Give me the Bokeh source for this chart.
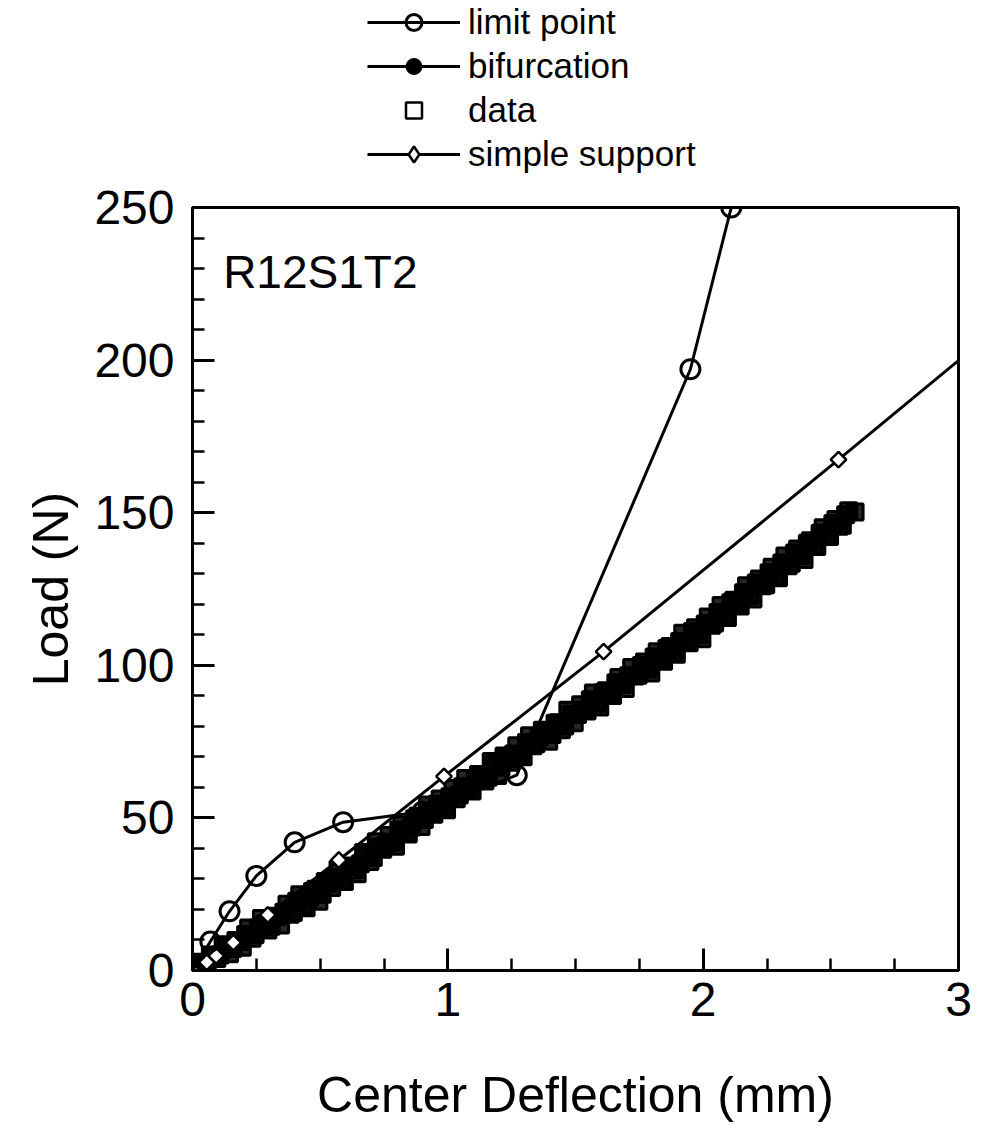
from bokeh.plotting import figure
from bokeh.layouts import column
from bokeh.models import Legend, LegendItem, Range1d, Label, FixedTicker
from bokeh.embed import file_html
from bokeh.resources import INLINE

# ---- data ----
lp_x = [0.0, 0.07, 0.145, 0.25, 0.40, 0.59, 0.90, 1.27, 1.95, 2.11]
lp_y = [0.0, 9.5, 19.4, 31.0, 42.0, 48.6, 52.0, 64.0, 197.0, 250.0]

bif_x = [0.0, 0.5, 1.0, 1.5, 2.0, 2.5]
bif_y = [0.0, 26.0, 56.0, 84.0, 112.0, 144.0]

ss_x = [0.0, 0.056, 0.093, 0.16, 0.295, 0.573, 0.985, 1.61, 2.53, 3.9]
ss_y = [0.0, 2.7, 4.8, 9.1, 18.2, 36.2, 63.6, 104.5, 167.4, 262.0]

# measured data: two interleaved passes through the dense band
data_x = [0.000, 0.020, 0.045, 0.070, 0.095, 0.120, 0.145, 0.170, 0.195, 0.220,
          0.245, 0.270, 0.295, 0.320, 0.345, 0.370, 0.395, 0.420, 0.445, 0.470,
          0.495, 0.520, 0.545, 0.570, 0.595, 0.620, 0.645, 0.670, 0.695, 0.720,
          0.745, 0.770, 0.795, 0.820, 0.845, 0.870, 0.895, 0.920, 0.945, 0.970,
          0.995, 1.020, 1.045, 1.070, 1.095, 1.120, 1.145, 1.170, 1.195, 1.220,
          1.245, 1.270, 1.295, 1.320, 1.345, 1.370, 1.395, 1.420, 1.445, 1.470,
          1.495, 1.520, 1.545, 1.570, 1.595, 1.620, 1.645, 1.670, 1.695, 1.720,
          1.745, 1.770, 1.795, 1.820, 1.845, 1.870, 1.895, 1.920, 1.945, 1.970,
          1.995, 2.020, 2.045, 2.070, 2.095, 2.120, 2.145, 2.170, 2.195, 2.220,
          2.245, 2.270, 2.295, 2.320, 2.345, 2.370, 2.395, 2.420, 2.445, 2.470,
          2.495, 2.520, 2.545, 2.570, 2.595,
          0.033, 0.058, 0.083, 0.108, 0.133, 0.158, 0.183, 0.208, 0.233, 0.258,
          0.283, 0.308, 0.333, 0.358, 0.383, 0.408, 0.433, 0.458, 0.483, 0.508,
          0.533, 0.558, 0.583, 0.608, 0.633, 0.658, 0.683, 0.708, 0.733, 0.758,
          0.783, 0.808, 0.833, 0.858, 0.883, 0.908, 0.933, 0.958, 0.983, 1.008,
          1.033, 1.058, 1.083, 1.108, 1.133, 1.158, 1.183, 1.208, 1.233, 1.258,
          1.283, 1.308, 1.333, 1.358, 1.383, 1.408, 1.433, 1.458, 1.483, 1.508,
          1.533, 1.558, 1.583, 1.608, 1.633, 1.658, 1.683, 1.708, 1.733, 1.758,
          1.783, 1.808, 1.833, 1.858, 1.883, 1.908, 1.933, 1.958, 1.983, 2.008,
          2.033, 2.058, 2.083, 2.108, 2.133, 2.158, 2.183, 2.208, 2.233, 2.258,
          2.283, 2.308, 2.333, 2.358, 2.383, 2.408, 2.433, 2.458, 2.483, 2.508,
          2.533, 2.558]
data_y = [0.0, 1.5, 1.8, 5.1, 3.9, 8.2, 5.5, 9.8, 7.6, 13.9,
          11.7, 17.0, 13.3, 17.6, 14.9, 21.7, 19.0, 24.8, 20.6, 25.9,
          22.7, 29.2, 27.2, 33.2, 29.2, 34.2, 31.7, 38.7, 35.7, 42.2,
          39.7, 44.2, 40.7, 47.7, 44.7, 49.7, 47.2, 54.2, 51.2, 56.2,
          52.7, 59.6, 57.5, 62.9, 58.8, 64.2, 62.1, 68.5, 63.9, 70.3,
          68.2, 73.6, 70.0, 76.9, 74.3, 78.7, 75.1, 81.0, 78.9, 85.3,
          81.2, 87.1, 85.0, 90.9, 86.3, 91.7, 90.1, 96.0, 92.4, 99.3,
          96.7, 101.1, 97.5, 104.4, 101.3, 106.2, 103.6, 110.5, 107.4, 112.3,
          108.7, 115.8, 113.9, 119.6, 115.7, 121.3, 119.4, 126.1, 121.7, 128.3,
          126.4, 132.1, 128.7, 135.8, 133.4, 138.1, 134.7, 140.8, 138.9, 145.1,
          142.2, 147.8, 145.9, 150.6, 150.2,
          2.7, 1.5, 4.8, 5.1, 8.4, 7.2, 9.5, 11.8, 10.6, 13.9,
          15.2, 14.5, 17.8, 19.1, 18.4, 22.7, 21.0, 23.8, 26.6, 25.0,
          28.5, 30.5, 29.5, 33.5, 33.0, 35.0, 38.5, 37.0, 40.5, 41.0,
          42.0, 46.0, 45.0, 47.0, 50.5, 49.5, 51.5, 54.5, 53.5, 56.9,
          56.3, 60.2, 59.6, 62.5, 63.9, 63.3, 67.7, 66.6, 69.5, 70.9,
          70.8, 74.7, 73.6, 76.5, 77.9, 77.3, 81.2, 80.1, 84.0, 83.9,
          85.3, 88.7, 87.6, 91.0, 90.4, 94.3, 93.7, 96.6, 96.5, 99.9,
          98.8, 102.7, 101.6, 105.5, 104.4, 107.8, 107.7, 111.1, 110.0, 113.5,
          113.1, 117.3, 116.4, 120.5, 119.6, 123.8, 122.9, 127.0, 126.1, 130.3,
          129.4, 133.5, 132.6, 136.8, 135.9, 140.0, 139.1, 143.3, 142.4, 146.5,
          145.6, 149.3]

x_ticks = [0, 1, 2, 3]
x_minor = [0.25, 0.5, 0.75, 1.25, 1.5, 1.75, 2.25, 2.5, 2.75]
y_ticks = [0, 50, 100, 150, 200, 250]
y_minor = [10, 20, 30, 40, 60, 70, 80, 90, 110, 120, 130, 140,
           160, 170, 180, 190, 210, 220, 230, 240]
series_names = ["limit point", "bifurcation", "data", "simple support"]
specimen = "R12S1T2"

FONT = "Liberation Sans"

# ---------- glyph styles ----------
LINE = dict(line_color="black", line_width=3)
LP_M = dict(marker="circle", size=19, fill_alpha=0, line_color="black", line_width=3)
BIF_M = dict(marker="circle", size=9, fill_color="black", line_color="black")
# the band of overlapping hollow squares prints as solid black
DATA_M_PLOT = dict(marker="square", size=16, fill_color="black", fill_alpha=0.85,
                   line_color="black", line_width=3)
DATA_M_LEG = dict(marker="square", size=12, fill_alpha=0, line_color="black", line_width=2.5)
SS_M_PLOT = dict(marker="square", angle=0.7854, size=11, fill_color="white",
                 line_color="black", line_width=2.5)
SS_M_LEG = dict(marker="diamond", size=14, fill_color="white",
                line_color="black", line_width=2.5)

# ---------- main plot ----------
p = figure(width=990, height=951,
           x_range=Range1d(0, 3), y_range=Range1d(0, 250),
           output_backend="svg", toolbar_location=None,
           min_border_left=192, min_border_right=32,
           min_border_top=30, min_border_bottom=158)

p.xgrid.visible = False
p.ygrid.visible = False
p.background_fill_color = "white"
p.outline_line_color = "black"
p.outline_line_width = 3

p.xaxis.ticker = FixedTicker(ticks=x_ticks, minor_ticks=x_minor)
p.yaxis.ticker = FixedTicker(ticks=y_ticks, minor_ticks=y_minor)

for ax in (p.xaxis[0], p.yaxis[0]):
    ax.axis_line_width = 3
    ax.axis_line_color = "black"
    ax.major_tick_line_width = 3
    ax.minor_tick_line_width = 2.5
    ax.major_tick_in = 22
    ax.major_tick_out = 0
    ax.minor_tick_in = 12
    ax.minor_tick_out = 0
    ax.major_label_text_font = FONT
    ax.major_label_text_font_size = "48px"
    ax.major_label_text_color = "black"
    ax.axis_label_text_font = FONT
    ax.axis_label_text_font_style = "normal"
    ax.axis_label_text_font_size = "50px"
    ax.axis_label_text_color = "black"

p.xaxis.axis_label = "Center Deflection (mm)"
p.yaxis.axis_label = "Load (N)"
p.xaxis.major_label_standoff = 12
p.yaxis.major_label_standoff = 18
p.xaxis.axis_label_standoff = 48
p.yaxis.axis_label_standoff = 12

p.scatter(data_x, data_y, **DATA_M_PLOT)
p.line(bif_x, bif_y, **LINE)
p.scatter(bif_x, bif_y, **BIF_M)
p.line(ss_x, ss_y, **LINE)
p.scatter(ss_x, ss_y, **SS_M_PLOT)
p.line(lp_x, lp_y, **LINE)
p.scatter(lp_x, lp_y, **LP_M)

p.add_layout(Label(x=0.12, y=229, text=specimen, text_font=FONT,
                   text_font_size="46px", text_color="black",
                   text_baseline="alphabetic", text_align="left"))

# ---------- legend strip above the plot ----------
# same series drawn in a strip whose ranges keep them out of view;
# only the legend of that strip is visible.
lg = figure(width=990, height=177, x_range=Range1d(10, 11), y_range=Range1d(1000, 1001),
            output_backend="svg", toolbar_location=None,
            min_border_left=0, min_border_right=0, min_border_top=0,
            min_border_bottom=0)
lg.axis.visible = False
lg.xgrid.visible = False
lg.ygrid.visible = False
lg.outline_line_color = None

g_lp = [lg.line(lp_x, lp_y, **LINE), lg.scatter(lp_x, lp_y, **LP_M)]
g_bif = [lg.line(bif_x, bif_y, **LINE), lg.scatter(bif_x, bif_y, **BIF_M)]
g_data = [lg.scatter(data_x, data_y, **DATA_M_LEG)]
g_ss = [lg.line(ss_x, ss_y, **LINE), lg.scatter(ss_x, ss_y, **SS_M_LEG)]

legend = Legend(items=[
    LegendItem(label=series_names[0], renderers=g_lp),
    LegendItem(label=series_names[1], renderers=g_bif),
    LegendItem(label=series_names[2], renderers=g_data),
    LegendItem(label=series_names[3], renderers=g_ss),
], location=(175, 3), orientation="vertical",
    glyph_width=93, glyph_height=40, label_height=40, spacing=4,
    label_standoff=8, padding=0, margin=0,
    border_line_alpha=0, background_fill_alpha=0,
    label_text_font=FONT, label_text_font_size="35px",
    label_text_color="black")
lg.add_layout(legend, "center")

layout = column(lg, p, spacing=0)
open("out.html", "w").write(file_html(layout, INLINE))
